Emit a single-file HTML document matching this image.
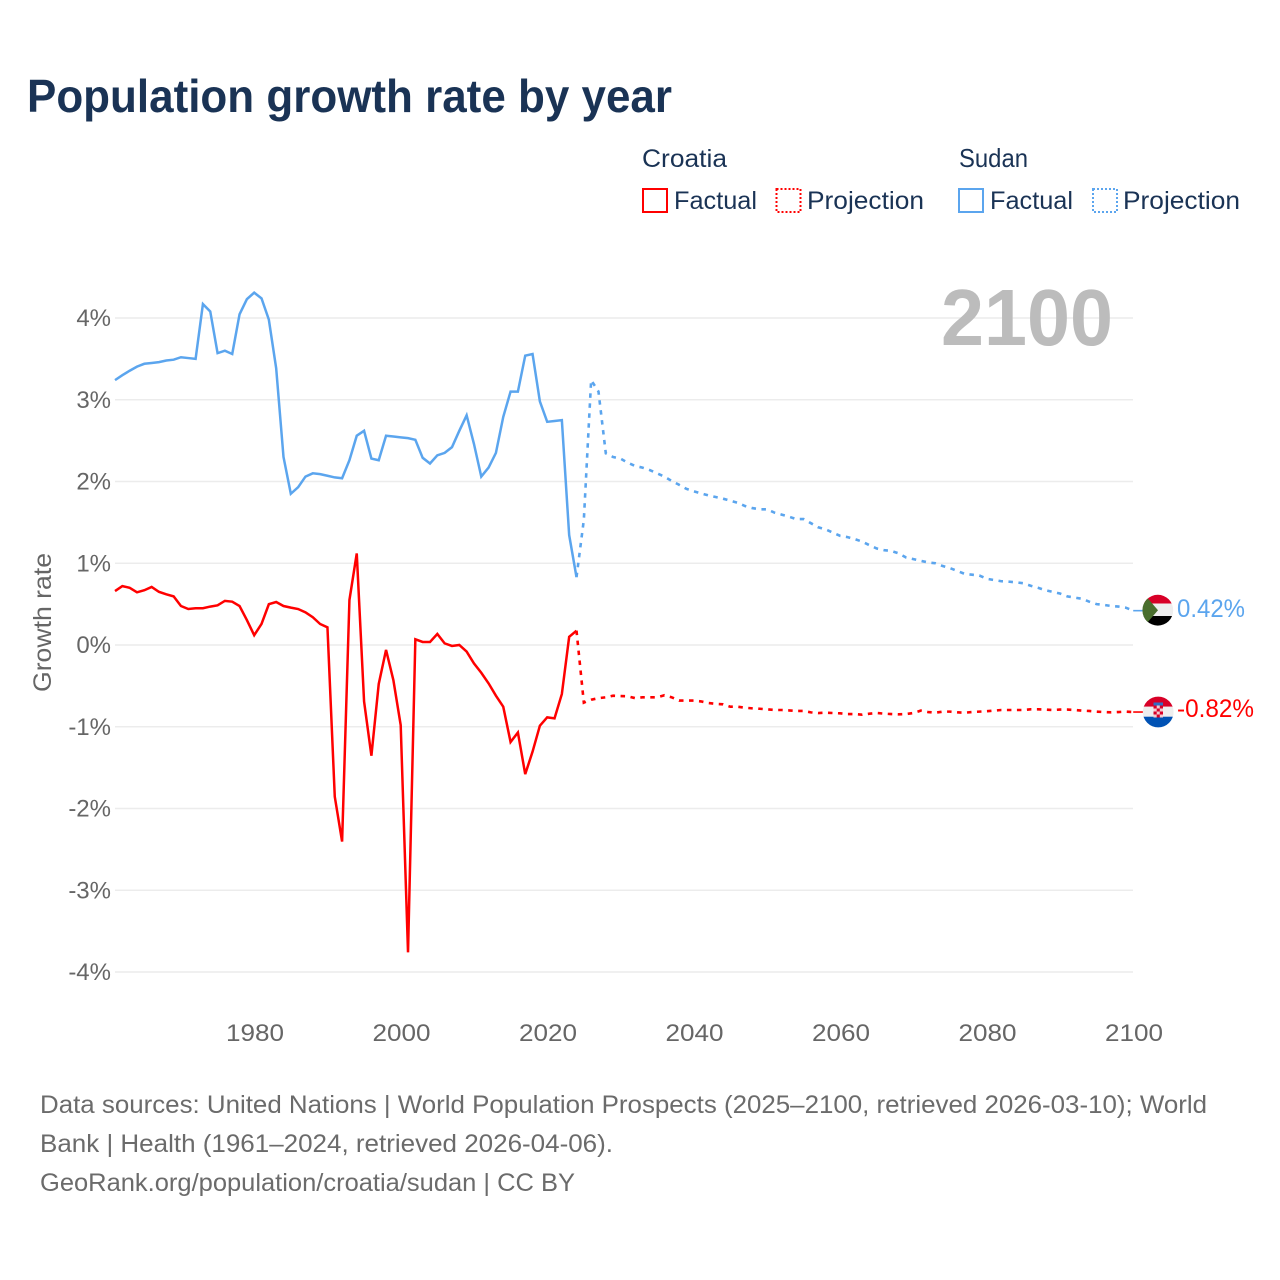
<!DOCTYPE html>
<html lang="en">
<head>
<meta charset="utf-8">
<title>Population growth rate by year</title>
<style>
html,body{margin:0;padding:0;background:#fff;}
svg{display:block;font-family:"Liberation Sans",sans-serif;}
.legend-text{font-size:25px;fill:#1a3355;}
.foot{font-size:25px;fill:#6b6b6b;}
.tick{font-size:24px;fill:#666;}
</style>
</head>
<body>
<svg id="chart" width="1280" height="1280" viewBox="0 0 1280 1280" xmlns="http://www.w3.org/2000/svg">
  <rect x="0" y="0" width="1280" height="1280" fill="#fff"/>
  <text x="27" y="112" font-size="46" font-weight="700" fill="#1a3355" textLength="645" lengthAdjust="spacingAndGlyphs">Population growth rate by year</text>

  <g>
    <text class="legend-text" x="642" y="167" textLength="85" lengthAdjust="spacingAndGlyphs">Croatia</text>
    <text class="legend-text" style="font-size:26px" x="959" y="167" textLength="69" lengthAdjust="spacingAndGlyphs">Sudan</text>
    <rect x="643" y="189" width="24" height="23" fill="none" stroke="#ff0000" stroke-width="2"/>
    <text class="legend-text" x="674" y="209" textLength="83" lengthAdjust="spacingAndGlyphs">Factual</text>
    <rect x="776.5" y="189" width="24" height="23" fill="none" stroke="#ff0000" stroke-width="2" stroke-dasharray="2 2"/>
    <text class="legend-text" x="807" y="209" textLength="117" lengthAdjust="spacingAndGlyphs">Projection</text>
    <rect x="959" y="189" width="24" height="23" fill="none" stroke="#5ba5ee" stroke-width="2"/>
    <text class="legend-text" x="990" y="209" textLength="83" lengthAdjust="spacingAndGlyphs">Factual</text>
    <rect x="1093" y="189" width="24" height="23" fill="none" stroke="#5ba5ee" stroke-width="2" stroke-dasharray="2 2"/>
    <text class="legend-text" x="1123" y="209" textLength="117" lengthAdjust="spacingAndGlyphs">Projection</text>
  </g>

  <g id="grid"></g>
  <text x="941" y="345" font-size="80" font-weight="700" fill="#bcbcbc" textLength="172" lengthAdjust="spacingAndGlyphs">2100</text>
  <g id="yticks"></g>
  <g id="xticks"></g>
  <text transform="translate(51,692) rotate(-90)" font-size="25" fill="#666" textLength="139" lengthAdjust="spacingAndGlyphs">Growth rate</text>
  <g id="series"></g>

  <g>
    <clipPath id="clip-sudan"><circle cx="1157.8" cy="610.2" r="15.4"/></clipPath>
    <g clip-path="url(#clip-sudan)">
      <rect x="1142" y="594" width="32" height="9.5" fill="#d80027"/>
      <rect x="1142" y="603.5" width="32" height="12.5" fill="#eeeeee"/>
      <rect x="1142" y="616" width="32" height="11" fill="#000"/>
      <polygon points="1142,592 1144,594 1158,610.2 1144,626.4 1142,628" fill="#496e2d"/>
    </g>
  </g>
  <g>
    <clipPath id="clip-croatia"><circle cx="1158.2" cy="712" r="15.4"/></clipPath>
    <g clip-path="url(#clip-croatia)">
      <rect x="1142" y="696" width="32" height="10.7" fill="#d80027"/>
      <rect x="1142" y="706.7" width="32" height="10" fill="#eeeeee"/>
      <rect x="1142" y="716.7" width="32" height="11.5" fill="#0052b4"/>
      <rect x="1153.5" y="702.5" width="9.5" height="3" fill="#2f6fc4"/>
      <rect x="1153.5" y="705.5" width="9.5" height="12" fill="#f4c9cf"/>
      <rect x="1153.5" y="705.5" width="3.2" height="3" fill="#d80027"/>
      <rect x="1159.8" y="705.5" width="3.2" height="3" fill="#d80027"/>
      <rect x="1156.7" y="708.5" width="3.1" height="3" fill="#d80027"/>
      <rect x="1153.5" y="711.5" width="3.2" height="3" fill="#d80027"/>
      <rect x="1159.8" y="711.5" width="3.2" height="3" fill="#d80027"/>
      <rect x="1156.7" y="714.5" width="3.1" height="3" fill="#d80027"/>
    </g>
  </g>
  <text x="1177" y="617" font-size="25" fill="#5ba5ee" textLength="68" lengthAdjust="spacingAndGlyphs">0.42%</text>
  <text x="1177" y="717" font-size="25" fill="#ff0000" textLength="77" lengthAdjust="spacingAndGlyphs">-0.82%</text>

  <g>
    <text class="foot" x="40" y="1113" textLength="1167" lengthAdjust="spacingAndGlyphs">Data sources: United Nations | World Population Prospects (2025–2100, retrieved 2026-03-10); World</text>
    <text class="foot" x="40" y="1152" textLength="573" lengthAdjust="spacingAndGlyphs">Bank | Health (1961–2024, retrieved 2026-04-06).</text>
    <text class="foot" x="40" y="1191" textLength="535" lengthAdjust="spacingAndGlyphs">GeoRank.org/population/croatia/sudan | CC BY</text>
  </g>
</svg>
<script>
const yTickValues = [4, 3, 2, 1, 0, -1, -2, -3, -4];
const xTickYears = [1980, 2000, 2020, 2040, 2060, 2080, 2100];
const factualStartYear = 1961;
const projectionStartYear = 2024;

const sudanFactual = [3.24,3.30,3.355,3.405,3.44,3.45,3.46,3.48,3.49,3.52,3.51,3.50,4.17,4.08,3.57,3.60,3.56,4.045,4.23,4.31,4.24,3.98,3.385,2.30,1.85,1.93,2.06,2.10,2.09,2.07,2.05,2.04,2.26,2.56,2.62,2.28,2.26,2.56,2.55,2.54,2.53,2.51,2.29,2.22,2.32,2.35,2.42,2.62,2.81,2.46,2.06,2.17,2.35,2.79,3.10,3.10,3.54,3.56,2.98,2.73,2.74,2.75,1.345,0.83];
const sudanProjection = [0.83,1.53,3.24,3.10,2.345,2.30,2.28,2.23,2.19,2.17,2.14,2.10,2.06,2.006,1.96,1.91,1.88,1.855,1.83,1.81,1.79,1.765,1.74,1.70,1.675,1.66,1.66,1.62,1.595,1.57,1.54,1.54,1.49,1.44,1.415,1.375,1.335,1.32,1.295,1.265,1.22,1.18,1.16,1.15,1.12,1.07,1.05,1.03,1.01,1.0,0.966,0.94,0.905,0.87,0.86,0.85,0.81,0.795,0.78,0.775,0.767,0.755,0.725,0.70,0.67,0.65,0.63,0.595,0.58,0.566,0.53,0.50,0.49,0.477,0.47,0.456,0.42];
const croatiaFactual = [0.66,0.72,0.70,0.645,0.67,0.71,0.65,0.62,0.595,0.477,0.44,0.45,0.45,0.47,0.485,0.54,0.53,0.477,0.305,0.12,0.257,0.50,0.526,0.477,0.457,0.44,0.40,0.34,0.257,0.216,-1.855,-2.405,0.55,1.12,-0.69,-1.355,-0.477,-0.06,-0.43,-0.98,-3.76,0.07,0.037,0.037,0.135,0.02,-0.012,0,-0.08,-0.225,-0.34,-0.47,-0.62,-0.755,-1.187,-1.07,-1.58,-1.305,-0.987,-0.885,-0.897,-0.6,0.10,0.175];
const croatiaProjection = [0.175,-0.705,-0.67,-0.65,-0.64,-0.62,-0.624,-0.627,-0.65,-0.64,-0.64,-0.64,-0.615,-0.64,-0.68,-0.68,-0.68,-0.69,-0.71,-0.72,-0.725,-0.755,-0.755,-0.767,-0.775,-0.78,-0.787,-0.795,-0.795,-0.80,-0.807,-0.807,-0.824,-0.832,-0.828,-0.832,-0.836,-0.845,-0.845,-0.853,-0.84,-0.832,-0.84,-0.845,-0.848,-0.845,-0.832,-0.803,-0.82,-0.828,-0.815,-0.815,-0.824,-0.828,-0.82,-0.815,-0.81,-0.803,-0.795,-0.795,-0.795,-0.795,-0.787,-0.787,-0.79,-0.795,-0.79,-0.79,-0.795,-0.803,-0.807,-0.815,-0.82,-0.824,-0.82,-0.815,-0.82];

const NS = 'http://www.w3.org/2000/svg';
function xScale(year) { return 254.2 + (year - 1980) * 7.325; }
function yScale(value) { return 645 - value * 81.75; }
function pathFrom(values, startYear) {
  return values.map(function (v, i) {
    return (i ? 'L' : 'M') + xScale(startYear + i).toFixed(2) + ' ' + yScale(v).toFixed(2);
  }).join(' ');
}

const gridGroup = document.getElementById('grid');
const yGroup = document.getElementById('yticks');
yTickValues.forEach(function (v) {
  const line = document.createElementNS(NS, 'line');
  
  
  line.setAttribute('x1', 115);
  line.setAttribute('x2', 1133);
  line.setAttribute('y1', yScale(v));
  line.setAttribute('y2', yScale(v));
  line.setAttribute('stroke', '#ececec');
  line.setAttribute('stroke-width', 1.6);
  gridGroup.appendChild(line);

  const label = document.createElementNS(NS, 'text');
  
  
  label.setAttribute('class', 'tick');
  label.setAttribute('x', 111);
  label.setAttribute('y', yScale(v) + 8);
  label.setAttribute('text-anchor', 'end');
  label.textContent = v + '%';
  yGroup.appendChild(label);
});

const xGroup = document.getElementById('xticks');
xTickYears.forEach(function (year) {
  const label = document.createElementNS(NS, 'text');
  
  
  label.setAttribute('class', 'tick');
  label.setAttribute('x', xScale(year) + 0.8);
  label.setAttribute('y', 1041);
  label.setAttribute('text-anchor', 'middle');
  label.setAttribute('textLength', 58);
  label.setAttribute('lengthAdjust', 'spacingAndGlyphs');
  label.textContent = year;
  xGroup.appendChild(label);
});

const seriesGroup = document.getElementById('series');

const croatiaFactualLine = document.createElementNS(NS, 'path');


croatiaFactualLine.setAttribute('d', pathFrom(croatiaFactual, factualStartYear));
croatiaFactualLine.setAttribute('fill', 'none');
croatiaFactualLine.setAttribute('stroke', '#ff0000');
croatiaFactualLine.setAttribute('stroke-width', 2.5);
croatiaFactualLine.setAttribute('stroke-linejoin', 'miter');
seriesGroup.appendChild(croatiaFactualLine);

const croatiaProjectionLine = document.createElementNS(NS, 'path');


croatiaProjectionLine.setAttribute('d', pathFrom(croatiaProjection, projectionStartYear));
croatiaProjectionLine.setAttribute('fill', 'none');
croatiaProjectionLine.setAttribute('stroke', '#ff0000');
croatiaProjectionLine.setAttribute('stroke-width', 2.6);
croatiaProjectionLine.setAttribute('stroke-dasharray', '4.5 5.5');
seriesGroup.appendChild(croatiaProjectionLine);

const sudanFactualLine = document.createElementNS(NS, 'path');


sudanFactualLine.setAttribute('d', pathFrom(sudanFactual, factualStartYear));
sudanFactualLine.setAttribute('fill', 'none');
sudanFactualLine.setAttribute('stroke', '#5ba5ee');
sudanFactualLine.setAttribute('stroke-width', 2.5);
sudanFactualLine.setAttribute('stroke-linejoin', 'miter');
seriesGroup.appendChild(sudanFactualLine);

const sudanProjectionLine = document.createElementNS(NS, 'path');


sudanProjectionLine.setAttribute('d', pathFrom(sudanProjection, projectionStartYear));
sudanProjectionLine.setAttribute('fill', 'none');
sudanProjectionLine.setAttribute('stroke', '#5ba5ee');
sudanProjectionLine.setAttribute('stroke-width', 2.6);
sudanProjectionLine.setAttribute('stroke-dasharray', '4.5 5.5');
seriesGroup.appendChild(sudanProjectionLine);

const sudanConnector = document.createElementNS(NS, 'line');


sudanConnector.setAttribute('x1', xScale(2100));
sudanConnector.setAttribute('x2', 1145);
sudanConnector.setAttribute('y1', yScale(sudanProjection[sudanProjection.length - 1]));
sudanConnector.setAttribute('y2', yScale(sudanProjection[sudanProjection.length - 1]));
sudanConnector.setAttribute('stroke', '#5ba5ee');
sudanConnector.setAttribute('stroke-width', 1.6);
seriesGroup.appendChild(sudanConnector);

const croatiaConnector = document.createElementNS(NS, 'line');


croatiaConnector.setAttribute('x1', xScale(2100));
croatiaConnector.setAttribute('x2', 1145);
croatiaConnector.setAttribute('y1', yScale(croatiaProjection[croatiaProjection.length - 1]));
croatiaConnector.setAttribute('y2', yScale(croatiaProjection[croatiaProjection.length - 1]));
croatiaConnector.setAttribute('stroke', '#ff0000');
croatiaConnector.setAttribute('stroke-width', 1.6);
seriesGroup.appendChild(croatiaConnector);
</script>
</body>
</html>
